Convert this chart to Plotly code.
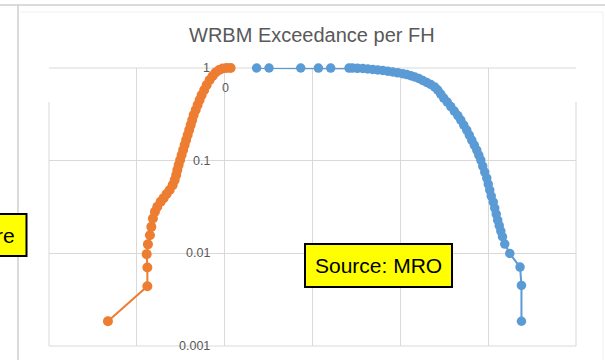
import math
import plotly.graph_objects as go

# Exceedance per flight hour of WRBM increments (negative side / positive side)
neg_x = [-1.329, -0.880, -0.880, -0.888, -0.874, -0.851, -0.835, -0.817, -0.794, -0.767,
         -0.729, -0.695, -0.661, -0.626, -0.592, -0.569, -0.552, -0.539, -0.524, -0.507,
         -0.490, -0.473, -0.456, -0.439, -0.421, -0.404, -0.387, -0.370, -0.353, -0.330,
         -0.308, -0.285, -0.262, -0.233, -0.205, -0.171, -0.137, -0.103, -0.063, -0.023,
         0.023, 0.068]
neg_y = [0.00185, 0.00442, 0.00703, 0.0098, 0.0125, 0.0157, 0.0193, 0.0238, 0.0281, 0.0318,
         0.036, 0.0394, 0.0436, 0.0482, 0.0545, 0.0617, 0.070, 0.0791, 0.0896, 0.1015,
         0.1149, 0.1301, 0.1474, 0.1669, 0.189, 0.214, 0.242, 0.274, 0.311, 0.352,
         0.398, 0.451, 0.511, 0.578, 0.655, 0.742, 0.820, 0.894, 0.952, 0.988,
         0.998, 0.9995]

pos_x = [0.364, 0.505, 0.866, 1.067, 1.207, 1.416, 1.454, 1.511, 1.572, 1.629,
         1.686, 1.743, 1.800, 1.856, 1.913, 1.970, 2.027, 2.073, 2.118, 2.164,
         2.210, 2.255, 2.301, 2.346, 2.392, 2.426, 2.460, 2.494, 2.534, 2.574,
         2.614, 2.654, 2.688, 2.722, 2.756, 2.785, 2.813, 2.842, 2.870, 2.893,
         2.916, 2.938, 2.961, 2.984, 3.001, 3.018, 3.035, 3.058, 3.075, 3.092,
         3.109, 3.126, 3.144, 3.163, 3.189, 3.246, 3.363, 3.379, 3.379]
pos_y = [0.9999, 0.9998, 0.9997, 0.9996, 0.9995, 0.9993, 0.9990, 0.9926, 0.9876, 0.9754,
         0.9634, 0.9515, 0.9397, 0.9235, 0.9053, 0.8876, 0.8679, 0.8486, 0.8256, 0.7994,
         0.7701, 0.7328, 0.6973, 0.6635, 0.6233, 0.5786, 0.5239, 0.4743, 0.4294, 0.3839,
         0.3432, 0.3069, 0.2745, 0.2423, 0.2140, 0.1890, 0.1669, 0.1474, 0.1301, 0.1149,
         0.1015, 0.0874, 0.0753, 0.0649, 0.0559, 0.0481, 0.0415, 0.0357, 0.0308, 0.0265,
         0.0228, 0.0199, 0.0174, 0.0151, 0.0126, 0.00997, 0.0071, 0.0045, 0.00185]

y_tick_vals = [1, 0.1, 0.01, 0.001]
y_tick_text = ["1", "0.1", "0.01", "0.001"]
title_text = "WRBM Exceedance per FH"
source_text = "Source: MRO"

W, H = 605, 360
L, R, T, B = 49, 29, 68, 14
PW, PH = W - L - R, H - T - B


def px(x):
    return (x - L) / PW


def py(y):
    return (H - B - y) / PH


ORANGE = "#ED7D31"
BLUE = "#5B9BD5"
GRID = "#d9d9d9"
TXT = "#595959"
FONT = "Liberation Sans"

fig = go.Figure()
fig.add_trace(go.Scatter(x=pos_x, y=pos_y, mode="lines+markers", cliponaxis=False,
                         line=dict(color=BLUE, width=2),
                         marker=dict(color=BLUE, size=9.5), showlegend=False))
fig.add_trace(go.Scatter(x=neg_x, y=neg_y, mode="lines+markers", cliponaxis=False,
                         line=dict(color=ORANGE, width=2),
                         marker=dict(color=ORANGE, size=10), showlegend=False))

shapes = []
# outer frame lines of the chart object
shapes.append(dict(type="line", xref="paper", yref="paper", x0=px(0), x1=px(W),
                   y0=py(5), y1=py(5), line=dict(color="#cfcfcf", width=1.5)))
shapes.append(dict(type="line", xref="paper", yref="paper", x0=px(18), x1=px(18),
                   y0=py(5), y1=py(H), line=dict(color="#cfcfcf", width=1.5)))
shapes.append(dict(type="line", xref="paper", yref="paper", x0=px(20), x1=px(603),
                   y0=py(12), y1=py(12), line=dict(color="#f0f0f0", width=1)))
shapes.append(dict(type="line", xref="paper", yref="paper", x0=px(603), x1=px(603),
                   y0=py(12), y1=py(H), line=dict(color="#eeeeee", width=1)))

# plot-area edges (top / bottom full, sides start below the blank band)
shapes.append(dict(type="line", xref="paper", yref="paper", x0=0, x1=1, y0=1, y1=1,
                   line=dict(color=GRID, width=1), layer="below"))
shapes.append(dict(type="line", xref="paper", yref="paper", x0=0, x1=1, y0=0, y1=0,
                   line=dict(color=GRID, width=1), layer="below"))
shapes.append(dict(type="line", xref="paper", yref="paper", x0=0, x1=0, y0=0, y1=py(102),
                   line=dict(color=GRID, width=1), layer="below"))
shapes.append(dict(type="line", xref="paper", yref="paper", x0=1, x1=1, y0=0, y1=py(102),
                   line=dict(color=GRID, width=1), layer="below"))

# blank bands across the top of the inner vertical gridlines
gaps = [(-1, 72, 102), (0, 69.5, 93), (1, 80, 112), (2, 69.5, 112), (3, 69.5, 102)]
for gx, ya, yb in gaps:
    shapes.append(dict(type="rect", xref="x", yref="paper", x0=gx - 0.04, x1=gx + 0.04,
                       y0=py(yb), y1=py(ya), fillcolor="white",
                       line=dict(width=0), layer="between"))

# yellow note boxes
shapes.append(dict(type="rect", xref="paper", yref="paper", x0=px(-10), x1=px(26.5),
                   y0=py(256), y1=py(214), fillcolor="#FFFF00",
                   line=dict(color="black", width=2), layer="above"))
shapes.append(dict(type="rect", xref="paper", yref="paper", x0=px(305), x1=px(452),
                   y0=py(287), y1=py(244), fillcolor="#FFFF00",
                   line=dict(color="black", width=2), layer="above"))

annotations = []
annotations.append(dict(text=title_text, xref="paper", yref="paper", x=px(311.5), y=py(35),
                        xanchor="center", yanchor="middle", showarrow=False,
                        font=dict(family=FONT, size=20, color=TXT)))
for v, t in zip(y_tick_vals, y_tick_text):
    annotations.append(dict(text=t, xref="x", yref="y", x=0, y=math.log10(v),
                            xanchor="right", yanchor="middle", xshift=-12.5,
                            showarrow=False, font=dict(family=FONT, size=12.5, color=TXT)))
annotations.append(dict(text="0", xref="x", yref="y", x=0, y=0, xanchor="center",
                        yanchor="middle", xshift=1, yshift=-19.5, showarrow=False,
                        font=dict(family=FONT, size=12.5, color=TXT)))
annotations.append(dict(text=source_text, xref="paper", yref="paper", x=px(378.5),
                        y=py(265.5), xanchor="center", yanchor="middle", showarrow=False,
                        font=dict(family=FONT, size=21, color="black")))
annotations.append(dict(text="re", xref="paper", yref="paper", x=px(16), y=py(235),
                        xanchor="right", yanchor="middle", showarrow=False, borderpad=0,
                        font=dict(family=FONT, size=21, color="black")))

fig.update_layout(
    width=W, height=H,
    margin=dict(l=L, r=R, t=T, b=B),
    paper_bgcolor="white", plot_bgcolor="white",
    shapes=shapes, annotations=annotations,
    xaxis=dict(range=[-2, 4], dtick=1, tick0=0, showticklabels=False, zeroline=False,
               showgrid=True, gridcolor=GRID, gridwidth=1, showline=False, ticks=""),
    yaxis=dict(type="log", range=[-3, 0], dtick=1, showticklabels=False, zeroline=False,
               showgrid=True, gridcolor=GRID, gridwidth=1, showline=False, ticks=""),
)

fig.write_html("out.html")
